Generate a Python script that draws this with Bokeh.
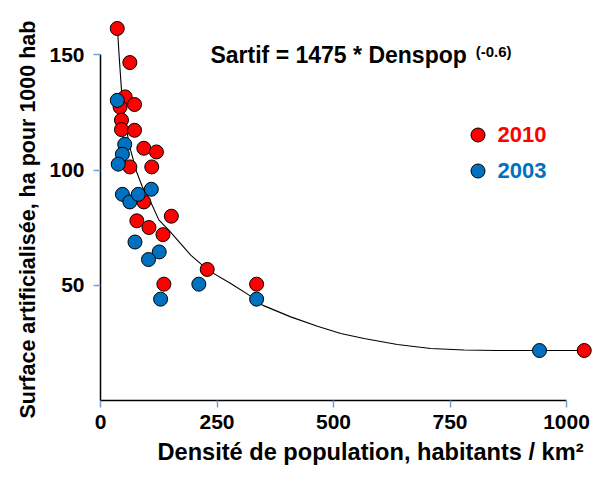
from bokeh.plotting import figure
from bokeh.models import Range1d, FixedTicker, Label, Legend, LegendItem, Title
from bokeh.embed import file_html
from bokeh.resources import INLINE

# Data
red_x = [36, 63, 53, 42, 73, 45, 45, 73, 93, 120, 63, 110, 93, 152, 78, 104, 134, 229, 136, 335, 1038]
red_y = [161.5, 146.7, 131.8, 127.4, 128.5, 121.7, 117.6, 117.3, 109.5, 107.9, 101.4, 101.4,
         86.2, 80, 78, 75.1, 72, 56.9, 50.5, 50.5, 21.7]
blue_x = [36, 52, 47, 38, 47, 63, 81, 109, 74, 126, 103, 211, 129, 335, 942]
blue_y = [130.3, 111.2, 106.9, 102.6, 89.5, 86.2, 89.5, 91.7, 68.8, 64.5, 61.2, 50.5, 44, 44, 21.7]

curve_x = [36.3, 40.5, 44.8, 52, 64.8, 77, 89.9, 107.7, 125.5, 147, 193.6, 230.7, 279.4, 322.3,
           347.4, 408.2, 465.5, 515.5, 565.5, 637, 708.6, 780, 850, 923, 1038]
curve_y = [161.6, 148, 135.4, 121, 108.6, 99.5, 92.7, 86.2, 78.3, 73.9, 63.1, 56.6, 50.8, 45.3,
           41.4, 36.3, 32.2, 29.1, 26.9, 24.3, 22.6, 21.9, 21.7, 21.7, 21.7]

x_ticks = [0, 250, 500, 750, 1000]
y_ticks = [50, 100, 150]
series_labels = ["2010", "2003"]
equation = "Sartif = 1475 * Denspop"
exponent = "(-0.6)"
x_title = "Densité de population, habitants / km²"
y_title = "Surface artificialisée, ha pour 1000 hab"

FONT = "Liberation Sans"
RED = "#FF0000"
BLUE = "#0070C0"
TICK_BLUE = "#6F9FD8"

p = figure(frame_width=494, frame_height=387,
           x_range=Range1d(0, 1060), y_range=Range1d(0, 168),
           output_backend="svg", toolbar_location=None,
           min_border_left=100, min_border_right=0, min_border_top=13, min_border_bottom=66)
p.outline_line_color = None
p.xgrid.visible = False
p.ygrid.visible = False
p.background_fill_color = "white"

p.line(curve_x, curve_y, line_color="black", line_width=1.1)
r_red = p.scatter(red_x, red_y, size=14, fill_color=RED, line_color="black", line_width=1)
r_blue = p.scatter(blue_x, blue_y, size=14, fill_color=BLUE, line_color="black", line_width=1)

for ax in (p.xaxis[0], p.yaxis[0]):
    ax.axis_line_color = "black"
    ax.axis_line_width = 1.5
    ax.major_tick_line_color = TICK_BLUE
    ax.major_tick_line_width = 1.5
    ax.major_tick_out = 7
    ax.major_tick_in = 0
    ax.minor_tick_line_color = None
    ax.major_label_text_font = FONT
    ax.major_label_text_font_style = "bold"
    ax.major_label_text_font_size = "21px"
    ax.major_label_text_color = "black"

p.xaxis[0].ticker = FixedTicker(ticks=x_ticks)
p.yaxis[0].ticker = FixedTicker(ticks=y_ticks)
p.xaxis[0].bounds = (0, 1000)
p.yaxis[0].bounds = (0, 150)
p.xaxis[0].major_label_standoff = 7
p.yaxis[0].major_label_standoff = 9

# axis titles
p.add_layout(Title(text=x_title, align="left", offset=57, text_font=FONT,
                   text_font_style="bold", text_font_size="23.6px", text_color="black",
                   standoff=11), "below")
p.add_layout(Title(text=y_title, align="left", offset=-18, text_font=FONT,
                   text_font_style="bold", text_font_size="21.5px", text_color="black",
                   standoff=13), "left")

# equation
p.add_layout(Label(x=236, y=150, text=equation, text_font=FONT, text_font_style="bold",
                   text_font_size="23px", text_baseline="middle", text_color="black"))
p.add_layout(Label(x=805, y=151.5, text=exponent, text_font=FONT, text_font_style="bold",
                   text_font_size="15px", text_baseline="middle", text_color="black"))

for lab, rend, col, loc in [(series_labels[0], r_red, RED, (359.5, 248)),
                            (series_labels[1], r_blue, BLUE, (359.5, 212))]:
    lg = Legend(items=[LegendItem(label=lab, renderers=[rend])], location=loc,
                label_text_font=FONT, label_text_font_style="bold", label_text_font_size="22px",
                label_text_color=col, glyph_width=35, glyph_height=35, label_height=35,
                label_standoff=3, padding=0, margin=0, spacing=0,
                border_line_color=None, background_fill_alpha=0)
    p.add_layout(lg)

open("out.html", "w").write(file_html(p, INLINE))
